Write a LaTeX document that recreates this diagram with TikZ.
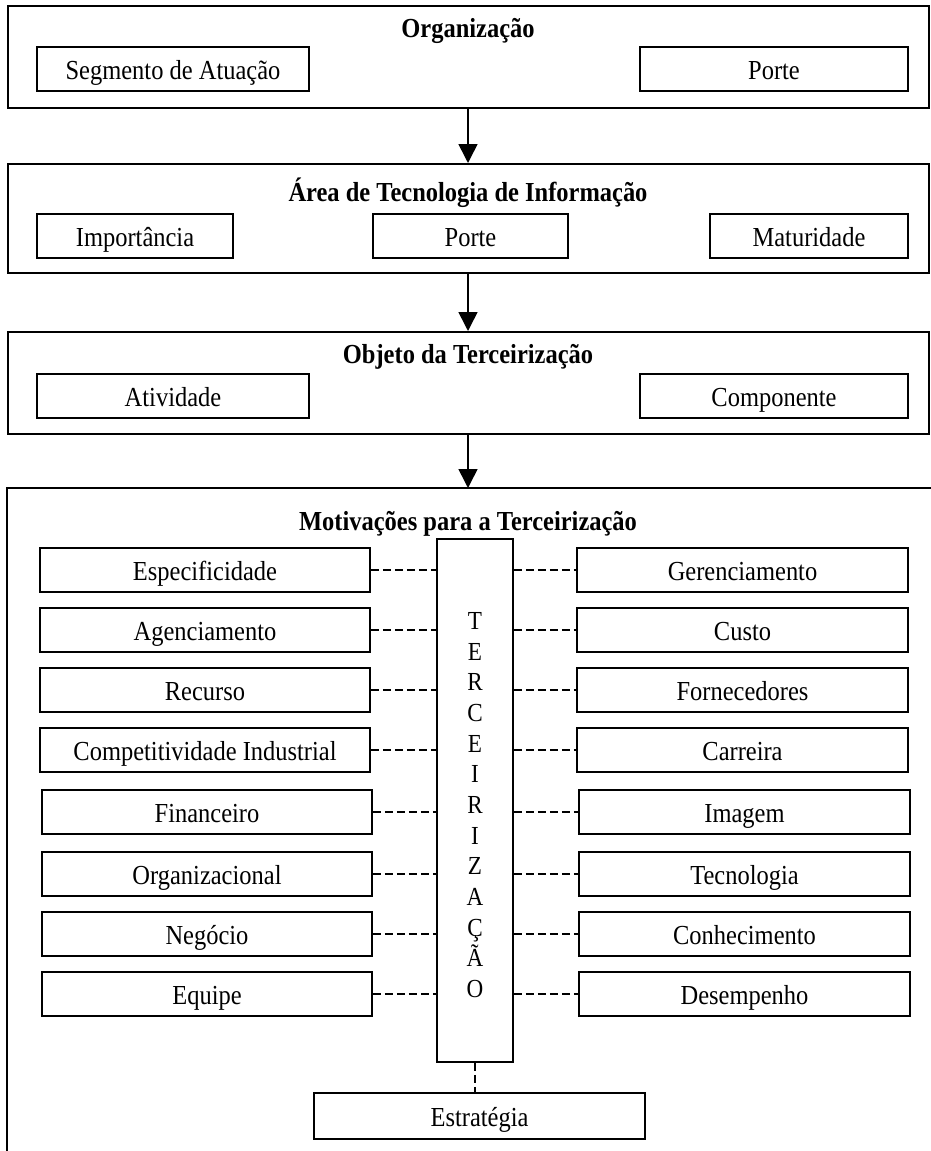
\documentclass[tikz,border=0pt]{standalone}
\usepackage{fontspec}
\setmainfont[FakeStretch=0.89]{Liberation Serif}
\usetikzlibrary{arrows.meta}
\begin{document}
\begin{tikzpicture}[x=1pt,y=-1pt,
  frame/.style={draw,line width=1.6pt,inner sep=0pt,anchor=north west},
  bx/.style={draw,line width=1.6pt,inner sep=0pt,minimum height=44pt,text height=25pt,text depth=4pt,font=\fontsize{27.5}{31}\selectfont},
  ttl/.style={font=\fontsize{27.5}{31}\selectfont\bfseries,inner sep=0pt,anchor=base},
  arr/.style={line width=1.6pt,-{Triangle[length=19pt,width=19pt]}},
  dsh/.style={line width=1.6pt,dash pattern=on 8pt off 4pt}]
\useasboundingbox (0,0) rectangle (930,1151);
% frame 1
\node[frame,minimum width=921pt,minimum height=102pt] (f1) at (7,5) {};
\node[ttl] (t1) at (468,37) {Organização};
\node[bx,minimum width=272pt] (seg) at (173,69) {Segmento de Atuação};
\node[bx,minimum width=268pt] (porte1) at (774,69) {Porte};
% frame 2
\node[frame,minimum width=921pt,minimum height=109pt] (f2) at (7,163) {};
\node[ttl] (t2) at (468,201) {Área de Tecnologia de Informação};
\node[bx,minimum width=196pt] (imp) at (135,236) {Importância};
\node[bx,minimum width=195pt] (porte2) at (470.5,236) {Porte};
\node[bx,minimum width=198pt] (mat) at (809,236) {Maturidade};
% frame 3
\node[frame,minimum width=921pt,minimum height=102pt] (f3) at (7,331) {};
\node[ttl] (t3) at (468,363) {Objeto da Terceirização};
\node[bx,minimum width=272pt] (ativ) at (173,396) {Atividade};
\node[bx,minimum width=268pt] (comp) at (774,396) {Componente};
% frame 4 (open)
\coordinate (f4bl) at (7,1160);
\coordinate (f4tl) at (7,488);
\coordinate (f4tr) at (940,488);
\draw[line width=1.6pt] (f4bl) -- (f4tl) -- (f4tr);
\node[ttl] (t4) at (468,530) {Motivações para a Terceirização};
% arrows
\draw[arr] (f1.south -| 468,0) -- (f2.north -| 468,0);
\draw[arr] (f2.south -| 468,0) -- (f3.north -| 468,0);
\draw[arr] (f3.south -| 468,0) -- (f4tl -| 468,0);
% central box
\node[draw,line width=1.6pt,minimum width=76pt,minimum height=523pt,inner sep=0pt] (terc) at (475,800.5) {};
\node[inner sep=0pt,align=center,font=\fontsize{26}{30.67}\selectfont] (tl) at (475,805) {T\\E\\R\\C\\E\\I\\R\\I\\Z\\A\\Ç\\Ã\\O};
% left boxes
\node[bx,minimum width=330pt] (l1) at (205,570) {Especificidade};
\node[bx,minimum width=330pt] (l2) at (205,630) {Agenciamento};
\node[bx,minimum width=330pt] (l3) at (205,690) {Recurso};
\node[bx,minimum width=330pt] (l4) at (205,750) {Competitividade Industrial};
\node[bx,minimum width=330pt] (l5) at (207,812) {Financeiro};
\node[bx,minimum width=330pt] (l6) at (207,874) {Organizacional};
\node[bx,minimum width=330pt] (l7) at (207,934) {Negócio};
\node[bx,minimum width=330pt] (l8) at (207,994) {Equipe};
% right boxes
\node[bx,minimum width=331pt] (r1) at (742.5,570) {Gerenciamento};
\node[bx,minimum width=331pt] (r2) at (742.5,630) {Custo};
\node[bx,minimum width=331pt] (r3) at (742.5,690) {Fornecedores};
\node[bx,minimum width=331pt] (r4) at (742.5,750) {Carreira};
\node[bx,minimum width=331pt] (r5) at (744.5,812) {Imagem};
\node[bx,minimum width=331pt] (r6) at (744.5,874) {Tecnologia};
\node[bx,minimum width=331pt] (r7) at (744.5,934) {Conhecimento};
\node[bx,minimum width=331pt] (r8) at (744.5,994) {Desempenho};
% dashed connectors
\foreach \i in {1,...,8}{
  \draw[dsh] (l\i.east) -- (terc.west |- l\i.east);
  \draw[dsh] (terc.east |- r\i.west) -- (r\i.west);
}
% estrategia
\node[bx,minimum width=331pt,minimum height=46pt] (estr) at (479.5,1116) {Estratégia};
\draw[dsh] (terc.south) -- (terc.south |- estr.north);
\end{tikzpicture}
\end{document}
